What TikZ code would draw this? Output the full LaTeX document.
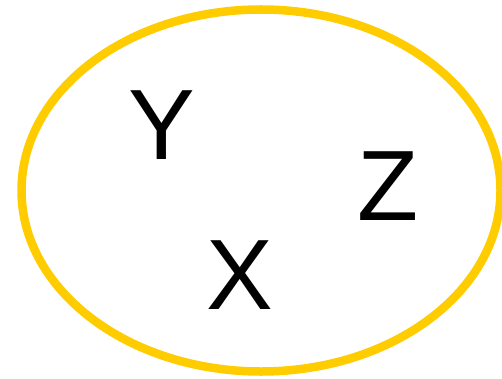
\documentclass[tikz,border=0pt]{standalone}
\usepackage{fontspec}
\setmainfont{Liberation Sans}
\definecolor{ringyellow}{HTML}{FFCC00}
\begin{document}
\begin{tikzpicture}[x=1pt,y=1pt,
  letter/.style={inner sep=0pt,font=\fontsize{100}{120}\selectfont}]
\useasboundingbox (0,0) rectangle (502,378);
\draw[ringyellow,line width=8.5pt] (261,187.5) ellipse [x radius=239.5, y radius=181];
\node[letter] (y) at (162,253) {Y};
\node[letter] (z) at (388,192) {Z};
\node[letter] (x) at (240,103) {X};
\end{tikzpicture}
\end{document}
